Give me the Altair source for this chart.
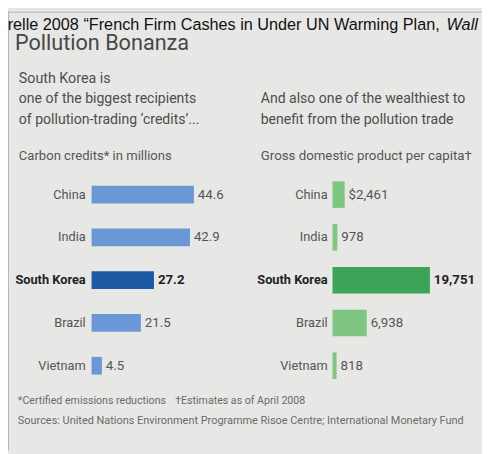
import altair as alt
import pandas as pd

# ---- data ----
countries = ["China", "India", "South Korea", "Brazil", "Vietnam"]
credits = [44.6, 42.9, 27.2, 21.5, 4.5]
credit_labels = ["44.6", "42.9", "27.2", "21.5", "4.5"]
gdp = [2461, 978, 19751, 6938, 818]
gdp_labels = ["$2,461", "978", "19,751", "6,938", "818"]
highlight = "South Korea"

top_note = "orelle 2008 \u201cFrench Firm Cashes in Under UN Warming Plan,"
top_note_italic = "Wall"
title = "Pollution Bonanza"
left_sub = ["South Korea is", "one of the biggest recipients", "of pollution-trading \u2018credits\u2019..."]
right_sub = ["And also one of the wealthiest to", "benefit from the pollution trade"]
left_unit = "Carbon credits* in millions"
right_unit = "Gross domestic product per capita\u2020"
foot1 = "*Certified emissions reductions"
foot2 = "\u2020Estimates as of April 2008"
sources = "Sources: United Nations Environment Programme Risoe Centre; International Monetary Fund"

df = pd.DataFrame({
    "country": countries,
    "credits": credits,
    "credit_label": credit_labels,
    "gdp": gdp,
    "gdp_label": gdp_labels,
})

F = "Roboto, Liberation Sans, sans-serif"
BG = "#e7e7e5"
GRAY = "#555555"
DARK = "#222222"

one = pd.DataFrame({"a": [0]})

def label(text, x, y, size, color=GRAY, font=F, weight="normal", style="normal", align="left"):
    return alt.Chart(one).mark_text(
        text=text, align=align, baseline="alphabetic", fontSize=size, font=font,
        fontWeight=weight, fontStyle=style, color=color
    ).encode(x=alt.value(x), y=alt.value(y))

Y = alt.Y("country:N", sort=countries, axis=None,
          scale=alt.Scale(type="point", range=[186, 360], padding=0))
XL = alt.X("credits:Q", axis=None, scale=alt.Scale(domain=[0, 50], range=[85, 201.6]))
XR = alt.X("gdp:Q", axis=None, scale=alt.Scale(domain=[0, 20000], range=[330, 430.25]))
is_hl = alt.datum.country == highlight

base = alt.Chart(df)

left_bars = base.mark_bar(height=18).encode(
    x=XL, y=Y,
    color=alt.condition(is_hl, alt.value("#1c5aa6"), alt.value("#6a97d6")))
right_bars = base.mark_bar(height=27).encode(
    x=XR, y=Y,
    color=alt.condition(is_hl, alt.value("#3ba457"), alt.value("#7ec581")))

CAT = 13
VAL = 13.5

def cat_labels(x):
    norm = base.transform_filter(~is_hl).mark_text(
        align="right", baseline="middle", fontSize=CAT, font=F, color=GRAY
    ).encode(x=alt.value(x), y=Y, text="country:N")
    bold = base.transform_filter(is_hl).mark_text(
        align="right", baseline="middle", fontSize=CAT, font=F, color=DARK, fontWeight="bold"
    ).encode(x=alt.value(x), y=Y, text="country:N")
    return norm, bold

def val_labels(X, field):
    norm = base.transform_filter(~is_hl).mark_text(
        align="left", baseline="middle", dx=4, fontSize=VAL, font=F, color=GRAY
    ).encode(x=X, y=Y, text=f"{field}:N")
    bold = base.transform_filter(is_hl).mark_text(
        align="left", baseline="middle", dx=4, fontSize=VAL, font=F, color=DARK, fontWeight="bold"
    ).encode(x=X, y=Y, text=f"{field}:N")
    return norm, bold

lc1, lc2 = cat_labels(79)
rc1, rc2 = cat_labels(325)
lv1, lv2 = val_labels(XL, "credit_label")
rv1, rv2 = val_labels(XR, "gdp_label")

border_top = alt.Chart(one).mark_rule(color="#b5b5b5", strokeWidth=1).encode(
    x=alt.value(0), x2=alt.value(482), y=alt.value(0.5))
border_left = alt.Chart(one).mark_rule(color="#b5b5b5", strokeWidth=1).encode(
    x=alt.value(0.5), y=alt.value(0), y2=alt.value(446))

HF = "Liberation Sans, Arial, sans-serif"
SUB = "#4d4d4d"
FOOT = "#6a6a6a"
texts = [
    label(top_note, 439, 18.5, 16.5, color="#111111", font=HF, align="right"),
    label(top_note_italic, 446, 18.5, 16.5, color="#111111", font=HF, style="italic"),
    label(title, 7, 39, 22, color="#484848"),
    label(left_sub[0], 11, 72, 14.5, color=SUB),
    label(left_sub[1], 11, 93, 14.3, color=SUB),
    label(left_sub[2], 11, 114, 14.3, color=SUB),
    label(right_sub[0], 257, 93, 14.3, color=SUB),
    label(right_sub[1], 257, 114, 14.3, color=SUB),
    label(left_unit, 11, 151, 13.3),
    label(right_unit, 257, 151, 13.5),
    label(foot1, 10, 399, 10.8, color=FOOT),
    label(foot2, 170, 399, 10.8, color=FOOT),
    label(sources, 10, 419, 11.1, color=FOOT),
]

chart = alt.layer(
    border_top, border_left,
    left_bars, right_bars, lc1, lc2, rc1, rc2, lv1, lv2, rv1, rv2,
    *texts
).resolve_scale(x="independent").properties(
    width=482, height=446, padding=0, autosize="none", background=BG
).configure_view(stroke=None)

chart.save("out.html", embed_options={"renderer": "svg", "actions": False})
